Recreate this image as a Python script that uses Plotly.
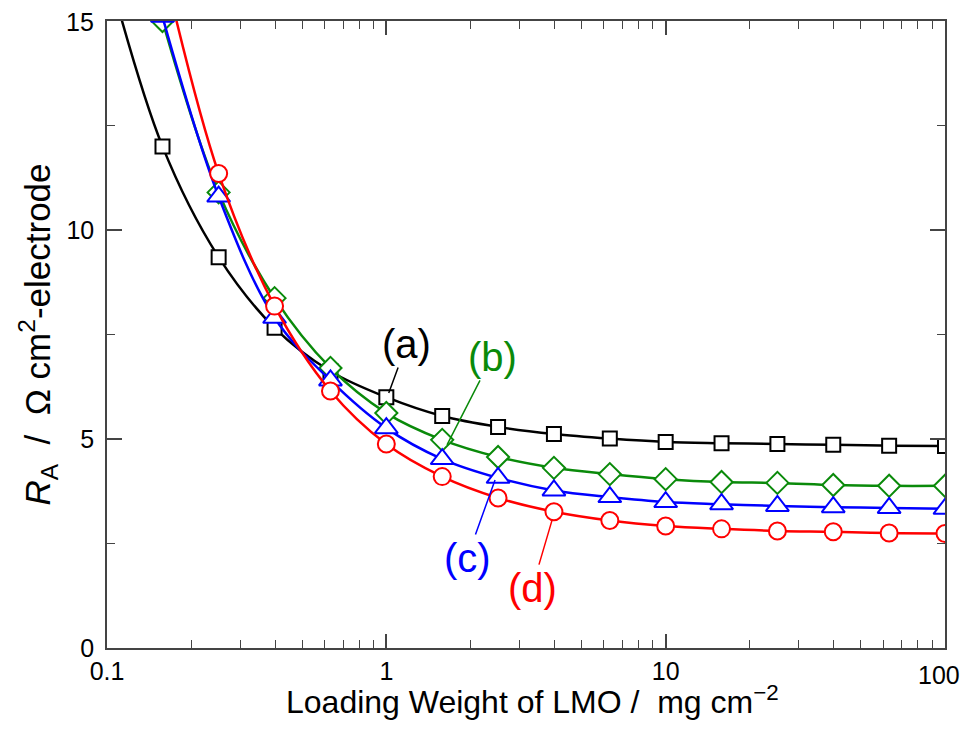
import math
import plotly.graph_objects as go

loading = [0.1, 0.158, 0.251, 0.398, 0.631, 1.0, 1.585, 2.512, 3.981, 6.31, 10.0, 15.85, 25.12, 39.81, 63.1, 100.0]
ra_a = [16.3, 12.0, 9.35, 7.66, 6.62, 6.0, 5.55, 5.29, 5.12, 5.01, 4.93, 4.90, 4.88, 4.86, 4.84, 4.83]
ra_b = [None, 15.0, 10.9, 8.37, 6.70, 5.62, 4.98, 4.57, 4.31, 4.16, 4.04, 3.97, 3.95, 3.90, 3.88, 3.88]
ra_c = [None, 15.1, 10.8, 7.90, 6.40, 5.26, 4.52, 4.07, 3.77, 3.61, 3.49, 3.44, 3.40, 3.37, 3.35, 3.33]
ra_d = [None, 16.4, 11.35, 8.18, 6.15, 4.88, 4.10, 3.59, 3.26, 3.05, 2.92, 2.85, 2.80, 2.78, 2.75, 2.74]

# ticks drawn by the axes; the two end labels are placed as text so they stay inside the page
x_ticks = [0.1, 1, 10, 100]
x_ticktext = ["0.1", "1", "10", ""]
y_ticks = [0, 5, 10, 15]
y_ticktext = ["0", "5", "10", ""]
x_end_label = ("100", 100.0)
y_end_label = ("15", 15.0)

series = [
    ("(a)", ra_a, "#000000", "square", 14),
    ("(b)", ra_b, "#0a8a0a", "diamond", 17),
    ("(c)", ra_c, "#0000ff", "triangle-up", 20),
    ("(d)", ra_d, "#ff0000", "circle", 17),
]

FONT = "Liberation Sans, Arial, sans-serif"
fig = go.Figure()
for name, ys, col, sym, sz in series:
    fig.add_trace(go.Scatter(
        x=loading, y=ys, mode="lines+markers", name=name,
        line=dict(color=col, width=2.5, shape="spline"),
        marker=dict(symbol=sym, size=sz, color="white", line=dict(color=col, width=2)),
        showlegend=False,
    ))

# label annotations with leader lines (tip near a data point, text offset in pixels)
labels = [
    ("(a)", 1.02, 6.10, 18, -49, "#000000"),
    ("(b)", 1.649, 4.86, 45, -88, "#0a8a0a"),
    ("(c)", 2.45, 4.02, -28, 78, "#0000ff"),
    ("(d)", 3.92, 3.06, -20, 68, "#ff0000"),
]
for txt, lx, ly, ax, ay, col in labels:
    fig.add_annotation(x=math.log10(lx), y=ly, xref="x", yref="y", text=txt,
                       showarrow=True, arrowhead=0, arrowwidth=1.5, arrowcolor=col,
                       ax=ax, ay=ay, font=dict(size=40, color=col, family=FONT))

# end tick labels
fig.add_annotation(x=math.log10(x_end_label[1]), y=0, xref="x", yref="y", text=x_end_label[0],
                   showarrow=False, xanchor="right", yanchor="top", xshift=17, yshift=-11,
                   font=dict(size=25, family=FONT, color="black"))
fig.add_annotation(x=-1, y=y_end_label[1], xref="x", yref="y", text=y_end_label[0],
                   showarrow=False, xanchor="right", yanchor="middle", xshift=-11, yshift=-1,
                   font=dict(size=25, family=FONT, color="black"))

# x-axis title
fig.add_annotation(x=0.508, y=-0.083, xref="paper", yref="paper",
                   text="Loading Weight of LMO /  mg cm<sup>\u22122</sup>", showarrow=False,
                   xanchor="center", yanchor="middle",
                   font=dict(size=32, family=FONT, color="black"))

axis_col = "#444444"
fig.update_xaxes(
    type="log", range=[-1, 2], showgrid=False, zeroline=False,
    showline=True, linecolor=axis_col, linewidth=1.5, mirror="ticks",
    ticks="inside", ticklen=14, tickcolor=axis_col, tickwidth=1.5,
    tickvals=x_ticks, ticktext=x_ticktext,
    minor=dict(ticks="inside", ticklen=8, tickcolor=axis_col, tickwidth=1.2, dtick="D1", showgrid=False),
    tickfont=dict(size=25, family=FONT, color="black"),
)
fig.update_yaxes(
    range=[0, 15], showgrid=False, zeroline=False,
    showline=True, linecolor=axis_col, linewidth=1.5, mirror="ticks",
    ticks="inside", ticklen=15, tickcolor=axis_col, tickwidth=1.5,
    tickvals=y_ticks, ticktext=y_ticktext, ticklabelstandoff=6,
    minor=dict(ticks="inside", ticklen=8, tickcolor=axis_col, tickwidth=1.2, dtick=2.5, showgrid=False),
    tickfont=dict(size=25, family=FONT, color="black"),
    title=dict(text="<i>R</i><sub>A</sub>  /  \u03a9 cm<sup>2</sup>-electrode", font=dict(size=35, family=FONT, color="black"), standoff=5),
)
fig.update_layout(
    width=955, height=715,
    margin=dict(l=99, r=18, t=13, b=75),
    paper_bgcolor="white", plot_bgcolor="white",
    font=dict(family=FONT),
)
fig.write_html("out.html", config={"displayModeBar": False})
